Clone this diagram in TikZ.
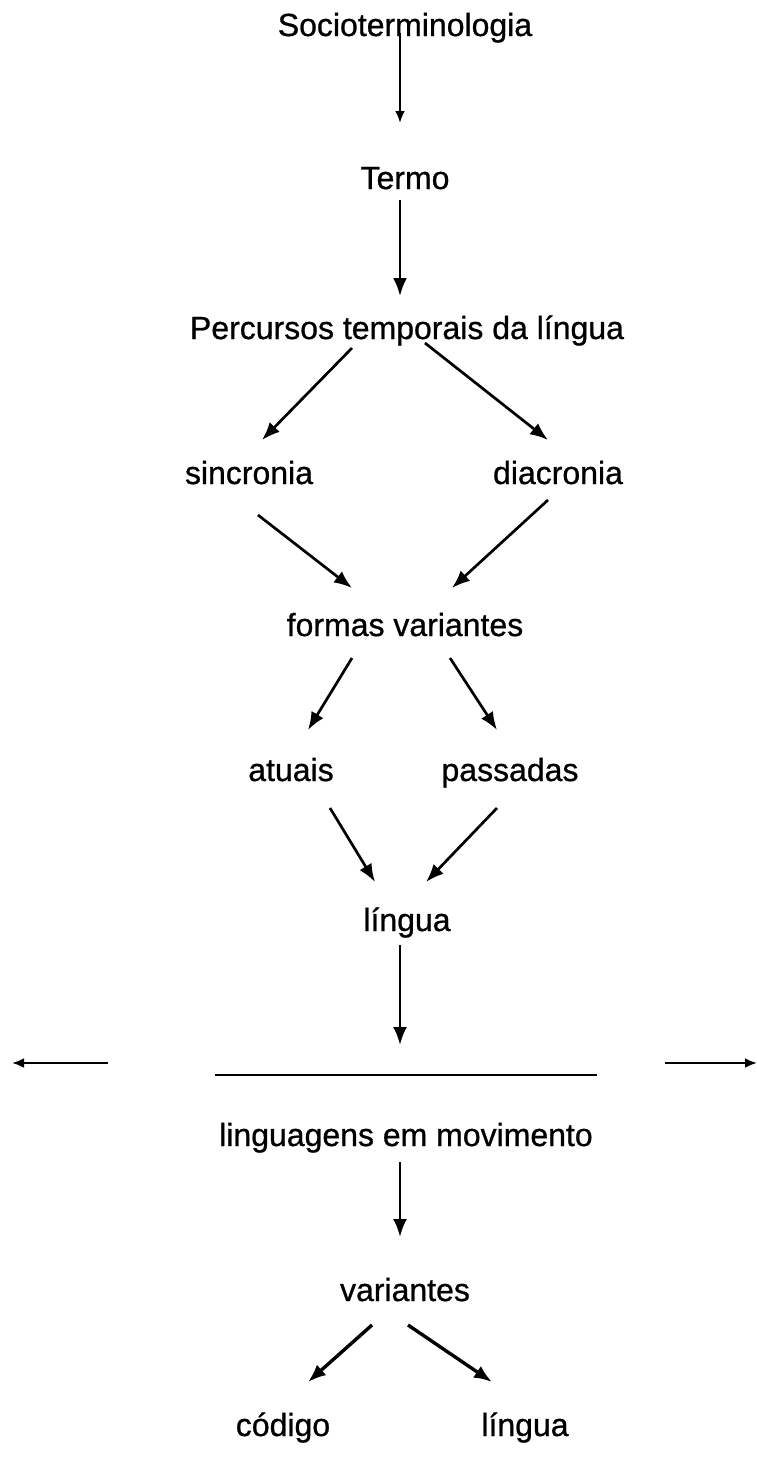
\documentclass[tikz,border=0pt]{standalone}
\usepackage{fontspec}
\setmainfont{Liberation Sans}
\newfontfamily\lblfont[FakeBold=0.8]{Liberation Sans}
\usetikzlibrary{arrows.meta,calc}
\begin{document}
\begin{tikzpicture}[x=1pt,y=-1pt,
  lbl/.style={anchor=base,inner sep=0pt,font=\lblfont\fontsize{32}{38}\selectfont},
  arr/.style={line width=2.7pt,-{Latex[length=18pt,width=14pt]}},
  sarr/.style={line width=2.7pt,-{Latex[length=12pt,width=10pt]}},
  plain/.style={line width=2.5pt}]
\useasboundingbox (0,0) rectangle (757,1459);
\node[lbl] (socio) at (405,36) {Socioterminologia};
\node[lbl] (termo) at (405,189) {Termo};
\node[lbl] (perc) at (407,339) {Percursos temporais da língua};
\node[lbl] (sinc) at (249,484) {sincronia};
\node[lbl] (diac) at (558,484) {diacronia};
\node[lbl] (formas) at (405,636) {formas variantes};
\node[lbl] (atuais) at (291,781) {atuais};
\node[lbl] (pass) at (510,781) {passadas};
\node[lbl] (lingua) at (407,931) {língua};
\node[lbl] (ling) at (406,1146) {linguagens em movimento};
\node[lbl] (var) at (405,1301) {variantes};
\node[lbl] (cod) at (283,1436) {código};
\node[lbl] (lingb) at (525,1436) {língua};
\coordinate (lineL) at (215,1075);
\coordinate (lineR) at (597,1075);
\coordinate (lineC) at (406,1075);
\coordinate (laS) at (108,1063);
\coordinate (laE) at (12,1063);
\coordinate (raS) at (665,1063);
\coordinate (raE) at (757,1063);

\draw[sarr] ([shift={(-5,-3)}]socio.base) -- ([shift={(-5,-66)}]termo.base);
\draw[arr] ([shift={(-5,11)}]termo.base) -- ([shift={(-7,-43)}]perc.base);
\draw[arr] ([shift={(-55,9)}]perc.base) -- ([shift={(13,-44)}]sinc.base);
\draw[arr] ([shift={(18,4)}]perc.base) -- ([shift={(-10,-44)}]diac.base);
\draw[arr] ([shift={(9,31)}]sinc.base) -- ([shift={(-53,-48)}]formas.base);
\draw[arr] ([shift={(-10,16)}]diac.base) -- ([shift={(47,-48)}]formas.base);
\draw[arr] ([shift={(-53,22)}]formas.base) -- ([shift={(17,-51)}]atuais.base);
\draw[arr] ([shift={(45,22)}]formas.base) -- ([shift={(-13,-51)}]pass.base);
\draw[arr] ([shift={(39,27)}]atuais.base) -- ([shift={(-32,-49)}]lingua.base);
\draw[arr] ([shift={(-13,27)}]pass.base) -- ([shift={(19,-49)}]lingua.base);
\draw[arr] ([shift={(-7,14)}]lingua.base) -- ([shift={(-6,-30)}]lineC);
\draw[plain] (lineL) -- (lineR);
\draw[sarr] (laS) -- (laE);
\draw[sarr] (raS) -- (raE);
\draw[arr] ([shift={(-6,16)}]ling.base) -- ([shift={(-5,-64)}]var.base);
\draw[arr,line width=3.4pt] ([shift={(-33,24)}]var.base) -- ([shift={(25,-54)}]cod.base);
\draw[arr,line width=3.4pt] ([shift={(3,24)}]var.base) -- ([shift={(-33,-54)}]lingb.base);
\end{tikzpicture}
\end{document}
